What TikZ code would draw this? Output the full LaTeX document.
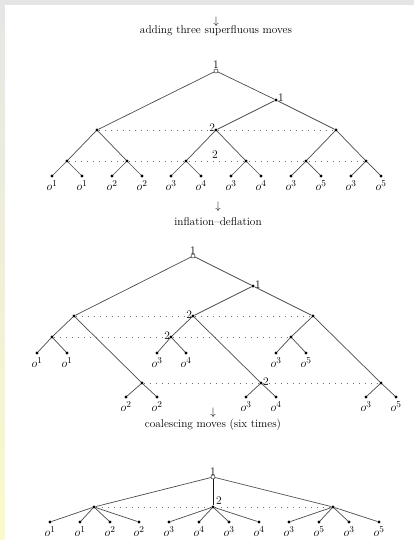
\documentclass[tikz,border=0pt]{standalone}
\usepackage{amsmath}
\begin{document}
\begin{tikzpicture}[x=1pt,y=-1pt,
  every node/.style={inner sep=0pt,outer sep=0pt},
  vtx/.style={circle,fill=black,minimum size=3.4pt},
  rootv/.style={circle,draw=black!80,fill=white,line width=0.5pt,minimum size=4pt},
  edge/.style={draw=black!70,line width=0.7pt},
  info/.style={draw=black!55,line width=0.75pt,dash pattern=on 0.9pt off 5.1pt},
  lbl/.style={font=\fontsize{11.5}{12}\selectfont},
  leaf/.style={font=\fontsize{12.5}{13}\selectfont,anchor=north},
  caption/.style={font=\fontsize{11.3}{13}\selectfont}
]
\useasboundingbox (0,0) rectangle (414,540);
\fill[white] (0,0) rectangle (414,540);
% page edge strips
\shade[top color=black!10,bottom color={rgb,255:red,250;green,250;blue,200}] (0,0) rectangle (4.5,540);
\fill[black!10] (0,0) rectangle (414,5);

% ---------- first game tree ----------
\node[caption] (ar1) at (216,22) {$\downarrow$};
\node[caption] (cap1) at (216,31) {adding three superfluous moves};

\node[rootv] (r) at (216,71) {};
\node[lbl,anchor=south] at (216,69) {1};
\node[vtx] (a) at (276,100) {};
\node[lbl,anchor=south west] at (278,102) {1};
\node[vtx] (b1) at (97,130) {};
\node[vtx] (b2) at (216,130) {};
\node[lbl,anchor=south east] at (215,132) {2};
\node[vtx] (b3) at (336,130) {};
\foreach \i/\x in {1/67,2/127,3/186,4/246,5/306,6/366}
  \node[vtx] (c\i) at (\x,161) {};
\node[lbl] at (215,155) {2};
\foreach \i/\x/\s in {1/52/1,2/82/1,3/112/2,4/142/2,5/171/3,6/201/4,7/231/3,8/261/4,9/291/3,10/321/5,11/351/3,12/381/5}{
  \node[vtx] (d\i) at (\x,176) {};
  \node[leaf] at ([yshift=-2.5pt]d\i.south) {$o^{\s}$};
}
\draw[info] (b1) -- (b2) -- (b3);
\draw[info] (c1) -- (c6);
\draw[edge] (r) -- (b1);
\draw[edge] (r) -- (a);
\draw[edge] (a) -- (b2);
\draw[edge] (a) -- (b3);
\draw[edge] (b1) -- (c1); \draw[edge] (b1) -- (c2);
\draw[edge] (b2) -- (c3); \draw[edge] (b2) -- (c4);
\draw[edge] (b3) -- (c5); \draw[edge] (b3) -- (c6);
\foreach \i/\j/\k in {1/1/2,2/3/4,3/5/6,4/7/8,5/9/10,6/11/12}{
  \draw[edge] (c\i) -- (d\j);
  \draw[edge] (c\i) -- (d\k);
}

% ---------- second game tree ----------
\node[caption] (ar2) at (218,207) {$\downarrow$};
\node[caption] (cap2) at (218,222) {inflation--deflation};

\node[rootv] (R) at (193,256) {};
\node[lbl,anchor=south] at (193,254) {1};
\node[vtx] (A) at (253,286) {};
\node[lbl,anchor=south west] at (255,288) {1};
\node[vtx] (B1) at (74,316) {};
\node[vtx] (B2) at (193,316) {};
\node[lbl,anchor=south east] at (192,318) {2};
\node[vtx] (B3) at (313,316) {};
\node[vtx] (C1) at (52,337) {};
\node[vtx] (C2) at (171,337) {};
\node[lbl,anchor=south east] at (170,339) {2};
\node[vtx] (C3) at (291,337) {};
\node[vtx] (E1) at (142,383) {};
\node[vtx] (E2) at (261,383) {};
\node[lbl,anchor=south west] at (263,385) {2};
\node[vtx] (E3) at (381,383) {};
\foreach \i/\x/\s in {1/37/1,2/67/1,3/157/3,4/186/4,5/276/3,6/306/5}{
  \node[vtx] (D\i) at (\x,353) {};
  \node[leaf] at ([yshift=-2.5pt]D\i.south) {$o^{\s}$};
}
\foreach \i/\x/\s in {1/126/2,2/157/2,3/246/3,4/276/4,5/366/3,6/396/5}{
  \node[vtx] (F\i) at (\x,397) {};
  \node[leaf] at ([yshift=-2.5pt]F\i.south) {$o^{\s}$};
}
\draw[info] (B1) -- (B2) -- (B3);
\draw[info] (C1) -- (C2) -- (C3);
\draw[info] (E1) -- (E2) -- (E3);
\draw[edge] (R) -- (B1);
\draw[edge] (R) -- (A);
\draw[edge] (A) -- (B2);
\draw[edge] (A) -- (B3);
\draw[edge] (B1) -- (C1); \draw[edge] (B1) -- (E1);
\draw[edge] (B2) -- (C2); \draw[edge] (B2) -- (E2);
\draw[edge] (B3) -- (C3); \draw[edge] (B3) -- (E3);
\draw[edge] (C1) -- (D1); \draw[edge] (C1) -- (D2);
\draw[edge] (C2) -- (D3); \draw[edge] (C2) -- (D4);
\draw[edge] (C3) -- (D5); \draw[edge] (C3) -- (D6);
\draw[edge] (E1) -- (F1); \draw[edge] (E1) -- (F2);
\draw[edge] (E2) -- (F3); \draw[edge] (E2) -- (F4);
\draw[edge] (E3) -- (F5); \draw[edge] (E3) -- (F6);

% ---------- third game tree ----------
\node[caption] (ar3) at (213,413) {$\downarrow$};
\node[caption] (cap3) at (213,425) {coalescing moves (six times)};

\node[rootv] (T) at (213,477) {};
\node[lbl,anchor=south] at (213,475) {1};
\node[vtx] (U1) at (94,507) {};
\node[vtx] (U2) at (213,507) {};
\node[lbl,anchor=south west] at (216,504) {2};
\node[vtx] (U3) at (333,507) {};
\foreach \i/\x/\s in {1/50/1,2/80/1,3/110/2,4/139/2,5/169/3,6/199/4,7/229/3,8/259/4,9/289/3,10/319/5,11/349/3,12/379/5}{
  \node[vtx] (V\i) at (\x,522) {};
  \node[leaf] at ([yshift=-2.5pt]V\i.south) {$o^{\s}$};
}
\draw[info] (U1) -- (U2) -- (U3);
\draw[edge] (T) -- (U1);
\draw[edge,draw=black!90,line width=0.85pt] (T) -- (U2);
\draw[edge] (T) -- (U3);
\foreach \i in {1,2,3,4} \draw[edge] (U1) -- (V\i);
\foreach \i in {5,6,7,8} \draw[edge] (U2) -- (V\i);
\foreach \i in {9,10,11,12} \draw[edge] (U3) -- (V\i);
\end{tikzpicture}
\end{document}
